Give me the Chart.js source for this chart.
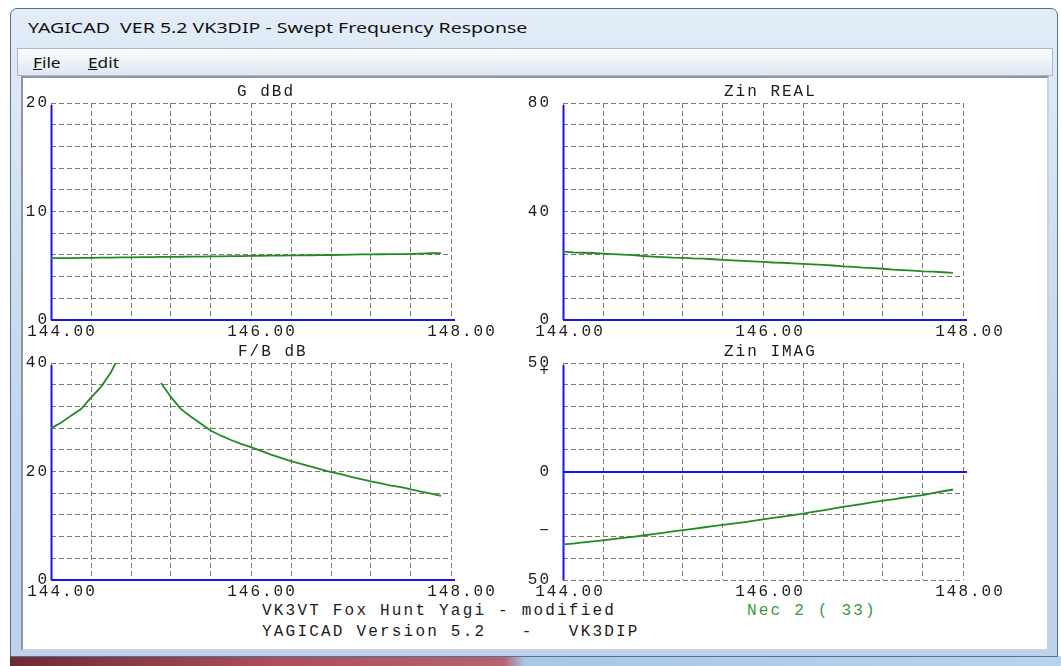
<!DOCTYPE html>
<html>
<head>
<meta charset="utf-8">
<script src="https://cdn.jsdelivr.net/npm/chart.js@4.4.0/dist/chart.umd.min.js"></script>
<style>
  body { margin: 0; width: 1061px; height: 666px; overflow: hidden; background: #fff; position: relative; }
  #strip { position: absolute; left: 10px; top: 656px; width: 1051px; height: 10px;
    background: linear-gradient(90deg, #6e2a34 0%, #a8505c 25%, #b46470 47%, #a9c6e6 49%, #b9d3ee 100%); }
  #win { position: absolute; left: 10px; top: 8px; width: 1048px; height: 649px; box-sizing: border-box;
    border: 1px solid #56708f; border-radius: 7px 7px 0 0;
    background: linear-gradient(180deg, #e3edf8 0%, #cfdff1 35%, #c3d7ee 60%, #bcd2eb 100%); }
  #title { position: absolute; left: 28px; top: 17px; font: 15px "Noto Sans", sans-serif; color: #111;
    white-space: pre; transform-origin: 0 50%; }
  #menu { position: absolute; left: 17px; top: 48px; width: 1036px; height: 28px; box-sizing: border-box;
    border: 1px solid #a9b8cc; background: linear-gradient(180deg, #fcfdfe 0%, #eef2f8 50%, #dfe7f2 100%); }
  .mi { position: absolute; top: 3px; font: 15px "Noto Sans", sans-serif; color: #111; transform-origin: 0 50%; transform: scaleX(1.15); }
  #client { position: absolute; left: 21px; top: 76px; width: 1028px; height: 575px; box-sizing: border-box;
    background: #fff; border: 2px solid #8d96a3; border-right-color: #c9d3df; border-bottom-color: #c9d3df; }
  canvas { position: absolute; }
  .note { position: absolute; font: 16px "Liberation Mono", monospace; letter-spacing: 2.2px; line-height: 20px;
    color: #1c1c1c; white-space: pre; }
  .nec { color: #3a9a3a; }
</style>
</head>
<body>
<div id="strip"></div>
<div id="win"></div>
<div id="title">YAGICAD  VER 5.2 VK3DIP - Swept Frequency Response</div>
<div id="menu">
  <span class="mi" style="left:15px"><u>F</u>ile</span>
  <span class="mi" style="left:70px"><u>E</u>dit</span>
</div>
<div id="client"></div>
<canvas id="cGain" width="490" height="262" style="left:12px;top:78px"></canvas>
<canvas id="cReal" width="490" height="262" style="left:524px;top:78px"></canvas>
<canvas id="cFb" width="490" height="262" style="left:12px;top:338px"></canvas>
<canvas id="cImag" width="490" height="262" style="left:524px;top:338px"></canvas>
<div class="note" style="left:262px;top:601px">VK3VT Fox Hunt Yagi - modified</div>
<div class="note nec" style="left:747px;top:601px">Nec 2 ( 33)</div>
<div class="note" style="left:262px;top:622px">YAGICAD Version 5.2   -   VK3DIP</div>
<script>
"use strict";

// sweep frequencies, MHz
const freqs = [
  144.0, 144.1, 144.2, 144.3, 144.4, 144.5, 144.6, 144.7, 144.8, 144.9,
  145.0, 145.1, 145.2, 145.3, 145.4, 145.5, 145.6, 145.7, 145.8, 145.9,
  146.0, 146.1, 146.2, 146.3, 146.4, 146.5, 146.6, 146.7, 146.8, 146.9,
  147.0, 147.1, 147.2, 147.3, 147.4, 147.5, 147.6, 147.7, 147.8, 147.9,
];

const gainDbd = [
  5.70, 5.70, 5.71, 5.72, 5.73, 5.74, 5.75, 5.77, 5.78, 5.79,
  5.80, 5.81, 5.82, 5.83, 5.84, 5.85, 5.86, 5.87, 5.88, 5.89,
  5.91, 5.92, 5.93, 5.94, 5.95, 5.96, 5.97, 5.98, 5.99, 6.01,
  6.03, 6.04, 6.05, 6.06, 6.07, 6.08, 6.10, 6.12, 6.15, 6.17,
];

const zinReal = [
  25.2, 24.9, 24.8, 24.7, 24.5, 24.3, 24.1, 23.9, 23.6, 23.4,
  23.2, 23.0, 22.9, 22.7, 22.6, 22.4, 22.2, 22.0, 21.8, 21.6,
  21.4, 21.2, 21.1, 20.9, 20.7, 20.5, 20.3, 20.1, 19.8, 19.6,
  19.3, 19.1, 18.9, 18.6, 18.4, 18.2, 17.9, 17.8, 17.6, 17.4,
];

// peak runs off the top of the plot
const frontBack = [
  28.0, 29.0, 30.3, 31.5, 33.6, 35.6, 38.3, 42.0, null, null,
  null, 36.3, 33.7, 31.5, 30.1, 28.8, 27.5, 26.6, 25.8, 25.1,
  24.5, 23.8, 23.1, 22.5, 21.9, 21.4, 20.9, 20.4, 19.9, 19.5,
  19.0, 18.6, 18.2, 17.8, 17.4, 17.1, 16.7, 16.3, 15.9, 15.5,
];

const zinImag = [
  -33.6, -33.2, -32.7, -32.2, -31.7, -31.2, -30.6, -30.1, -29.5, -28.9,
  -28.3, -27.6, -27.0, -26.4, -25.8, -25.2, -24.6, -24.0, -23.4, -22.8,
  -22.1, -21.4, -20.8, -20.1, -19.4, -18.6, -17.9, -17.1, -16.3, -15.6,
  -14.9, -14.1, -13.4, -12.8, -12.1, -11.5, -10.9, -10.0, -9.1, -8.3,
];

const xGrid = [144.0, 144.4, 144.8, 145.2, 145.6, 146.0, 146.4, 146.8, 147.2, 147.6, 148.0];
const xLabels = [144, 146, 148];

const gainGrid = [0, 2, 4, 6, 8, 10, 12, 14, 16, 18, 20];
const gainLabels = [0, 10, 20];
const realGrid = [0, 8, 16, 24, 32, 40, 48, 56, 64, 72, 80];
const realLabels = [0, 40, 80];
const fbGrid = [0, 4, 8, 12, 16, 20, 24, 28, 32, 36, 40];
const fbLabels = [0, 20, 40];
const imagGrid = [-50, -40, -30, -20, -10, 0, 10, 20, 30, 40, 50];
const imagLabels = [-50, 0, 50];

const textColor = "#1c1c1c";
const tickFont = { family: '"Liberation Mono", monospace', size: 16 };

// blue axes, panel title and the odd +/- marks
const yagiPlot = {
  id: "yagiPlot",
  beforeDraw(chart) {
    chart.ctx.letterSpacing = "2px";
  },
  beforeDatasetsDraw(chart) {
    const { ctx, chartArea: a, scales } = chart;
    const y0 = Math.round(scales.y.getPixelForValue(0));
    ctx.save();
    ctx.strokeStyle = "#1414f5";
    ctx.lineWidth = 2;
    ctx.beginPath();
    ctx.moveTo(a.left, y0);
    ctx.lineTo(a.right + 4, y0);
    ctx.moveTo(a.left + 0.5, a.top + 2);
    ctx.lineTo(a.left + 0.5, a.bottom);
    ctx.stroke();
    ctx.restore();
  },
  afterDraw(chart, args, opts) {
    const { ctx, chartArea: a, scales } = chart;
    ctx.save();
    ctx.font = '16px "Liberation Mono", monospace';
    ctx.fillStyle = textColor;
    ctx.textBaseline = "middle";
    ctx.textAlign = "left";
    ctx.fillText(opts.title, a.left + opts.titleStart, a.top - 11);
    ctx.textAlign = "center";
    (opts.marks || []).forEach((m) => {
      ctx.fillText(m.text, a.left - 18, scales.y.getPixelForValue(m.value));
    });
    ctx.restore();
  },
};

function sweepChart(id, cfg) {
  const gridOpts = { color: "#777777", lineWidth: 1, drawTicks: false };
  const borderOpts = { display: false, dash: [5, 3] };
  return new Chart(document.getElementById(id), {
    type: "line",
    data: {
      labels: freqs,
      datasets: [
        {
          data: cfg.values,
          borderColor: "#238a23",
          borderWidth: 1.8,
          pointRadius: 0,
          tension: 0,
        },
      ],
    },
    options: {
      responsive: false,
      animation: false,
      devicePixelRatio: 1,
      layout: { padding: { left: 0, right: 51, top: 25, bottom: 0 } },
      plugins: {
        legend: { display: false },
        tooltip: { enabled: false },
        yagiPlot: { title: cfg.title, titleStart: cfg.titleStart, marks: cfg.marks },
      },
      scales: {
        x: {
          type: "linear",
          min: 144,
          max: 148,
          afterBuildTicks: (s) => {
            s.ticks = xGrid.map((v) => ({ value: v }));
          },
          afterFit: (s) => {
            s.height = 20;
            s.paddingLeft = 0;
            s.paddingRight = 0;
          },
          grid: gridOpts,
          border: borderOpts,
          ticks: {
            autoSkip: false,
            maxRotation: 0,
            padding: 2,
            labelOffset: cfg.labelOffset,
            color: textColor,
            font: tickFont,
            callback: (v) => (xLabels.some((l) => Math.abs(l - v) < 1e-6) ? v.toFixed(2) : ""),
          },
        },
        y: {
          min: cfg.grid[0],
          max: cfg.grid[cfg.grid.length - 1],
          afterBuildTicks: (s) => {
            s.ticks = cfg.grid.map((v) => ({ value: v }));
          },
          afterFit: (s) => {
            s.width = 39;
            s.paddingTop = 0;
            s.paddingBottom = 0;
          },
          grid: gridOpts,
          border: borderOpts,
          ticks: {
            autoSkip: false,
            padding: cfg.yPad,
            color: textColor,
            font: tickFont,
            callback: (v) => (cfg.labels.includes(v) ? String(Math.abs(v)) : ""),
          },
        },
      },
    },
    plugins: [yagiPlot],
  });
}

sweepChart("cGain", {
  title: "G dBd", titleStart: 186, values: gainDbd,
  grid: gainGrid, labels: gainLabels, yPad: 2, labelOffset: 11,
});
sweepChart("cReal", {
  title: "Zin REAL", titleStart: 161, values: zinReal,
  grid: realGrid, labels: realLabels, yPad: 12, labelOffset: 7,
});
sweepChart("cFb", {
  title: "F/B dB", titleStart: 187, values: frontBack,
  grid: fbGrid, labels: fbLabels, yPad: 2, labelOffset: 11,
});
sweepChart("cImag", {
  title: "Zin IMAG", titleStart: 161, values: zinImag,
  grid: imagGrid, labels: imagLabels, yPad: 12, labelOffset: 7,
  marks: [{ text: "+", value: 46.5 }, { text: "\u2212", value: -27.5 }],
});

// window caption is drawn a bit wide in the original screenshot
const title = document.getElementById("title");
title.style.transform = `scaleX(${499 / title.offsetWidth})`;
</script>
</body>
</html>
